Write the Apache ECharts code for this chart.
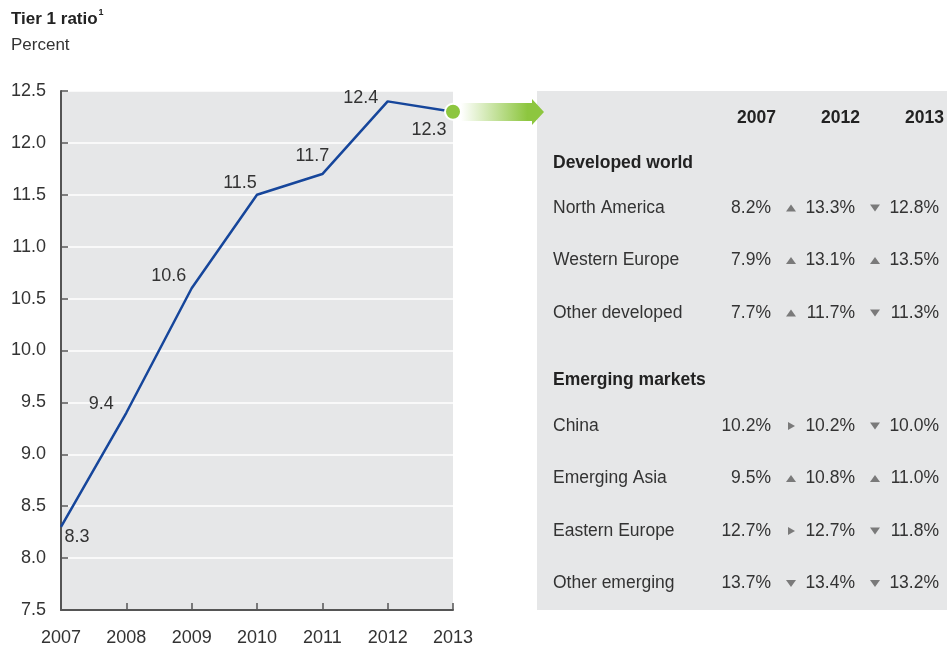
<!DOCTYPE html>
<html>
<head>
<meta charset="utf-8">
<script src="https://cdn.jsdelivr.net/npm/echarts@6/dist/echarts.min.js"></script>
<style>
html,body{margin:0;padding:0;background:#fff;}
#chart{width:947px;height:649px;}
</style>
</head>
<body>
<div id="chart"></div>
<script>
// ---- data ----
const years = ['2007','2008','2009','2010','2011','2012','2013'];
const tier1 = [8.3, 9.4, 10.6, 11.5, 11.7, 12.4, 12.3];
const yTicks = [7.5, 12.5, 0.5]; // min, max, interval

const tableYears = ['2007', '2012', '2013'];
const sectionTitles = ['Developed world', 'Emerging markets'];
const developedNames = ['North America', 'Western Europe', 'Other developed'];
const developed2007 = [8.2, 7.9, 7.7];
const developed2012 = [13.3, 13.1, 11.7];
const developed2013 = [12.8, 13.5, 11.3];
const emergingNames = ['China', 'Emerging Asia', 'Eastern Europe', 'Other emerging'];
const emerging2007 = [10.2, 9.5, 12.7, 13.7];
const emerging2012 = [10.2, 10.8, 12.7, 13.4];
const emerging2013 = [10.0, 11.0, 11.8, 13.2];

// ---- styles ----
const FONT = "'Liberation Sans',Arial,sans-serif";
const TXT = '#333333';
const GRAY = '#e6e7e8';
const GREEN = '#8dc63f';
const labelOffsets = [[16,10],[-25,-9],[-23,-12],[-17,-12],[-10,-18],[-27,-3],[-24,18]];

const chart = echarts.init(document.getElementById('chart'), null, {renderer:'canvas'});

const lineData = tier1.map((v, i) => {
  const last = i === tier1.length - 1;
  return {
    value: v,
    symbol: 'circle',
    symbolSize: last ? 16 : 0.1,
    itemStyle: last ? {color: GREEN, borderColor: '#fff', borderWidth: 2, opacity: 1}
                    : {color: 'rgba(0,0,0,0)', borderWidth: 0},
    label: {show: true, position: 'inside', offset: labelOffsets[i]}
  };
});

// measure helper
const mctx = document.createElement('canvas').getContext('2d');
function tw(text, font) { mctx.font = font; return mctx.measureText(text).width; }

// ---- table graphics ----
const g = [];
g.push({type:'rect', shape:{x:537, y:91, width:410, height:519}, style:{fill:GRAY}, z:1});
// arrow
g.push({type:'polygon', z:5,
  shape:{points:[[461,103],[532,103],[532,99],[544,112],[532,125],[532,121],[461,121]]},
  style:{fill:{type:'linear', x:0, y:0, x2:1, y2:0, global:false,
    colorStops:[{offset:0, color:'rgba(255,255,255,1)'},{offset:0.8, color:GREEN},{offset:1, color:GREEN}]}}});
// title
const titleFont = 'bold 17px ' + FONT;
const titleText = 'Tier 1 ratio';
g.push({type:'text', z:10, style:{text:titleText, x:11, y:19, textVerticalAlign:'middle', font:titleFont, fill:'#222'}});
g.push({type:'text', z:10, style:{text:'1', x:11 + tw(titleText, titleFont) + 1, y:13, textVerticalAlign:'middle',
  font:'bold 9px ' + FONT, fill:'#222'}});
g.push({type:'text', z:10, style:{text:'Percent', x:11, y:45, textVerticalAlign:'middle',
  font:'17px ' + FONT, fill:TXT}});

const TF = '17.5px ' + FONT;
const TFB = 'bold 17.5px ' + FONT;
const colRight = [776, 860, 944];
const valRight = [771, 855, 939];
const markX = [791, 875];
tableYears.forEach((t, i) => {
  g.push({type:'text', z:10, style:{text:t, x:colRight[i], y:118, textAlign:'right', textVerticalAlign:'middle',
    font:TFB, fill:'#222'}});
});
function marker(cx, cy, a, b) {
  let pts;
  if (b > a) pts = [[cx-5, cy+3.5],[cx+5, cy+3.5],[cx, cy-3.5]];
  else if (b < a) pts = [[cx-5, cy-3.5],[cx+5, cy-3.5],[cx, cy+3.5]];
  else pts = [[cx-3, cy-4],[cx-3, cy+4],[cx+4, cy]];
  return {type:'polygon', z:10, shape:{points:pts}, style:{fill:'#7a7a7a'}};
}
function section(title, ty, names, v1, v2, v3, y0) {
  g.push({type:'text', z:10, style:{text:title, x:553, y:ty, textVerticalAlign:'middle', font:TFB, fill:'#222'}});
  names.forEach((n, i) => {
    const y = y0 + i * 52.5;
    g.push({type:'text', z:10, style:{text:n, x:553, y:y, textVerticalAlign:'middle', font:TF, fill:TXT}});
    [v1[i], v2[i], v3[i]].forEach((v, k) => {
      g.push({type:'text', z:10, style:{text:v.toFixed(1) + '%', x:valRight[k], y:y, textAlign:'right',
        textVerticalAlign:'middle', font:TF, fill:TXT}});
    });
    g.push(marker(markX[0], y, v1[i], v2[i]));
    g.push(marker(markX[1], y, v2[i], v3[i]));
  });
}
section(sectionTitles[0], 163, developedNames, developed2007, developed2012, developed2013, 208);
section(sectionTitles[1], 380, emergingNames, emerging2007, emerging2012, emerging2013, 426);

chart.setOption({
  animation: false,
  backgroundColor: '#fff',
  grid: {left:61, right:494, top:91, bottom:39, show:true, backgroundColor:GRAY, borderWidth:0},
  xAxis: {
    type:'category', data: years, boundaryGap:false,
    axisLine:{show:true, lineStyle:{color:'#555', width:2}},
    axisTick:{show:true, inside:true, length:7, lineStyle:{color:'#555', width:1.5}},
    axisLabel:{color:TXT, fontSize:18, fontFamily:FONT, margin:19},
    splitLine:{show:false}
  },
  yAxis: {
    type:'value', min:yTicks[0], max:yTicks[1], interval:yTicks[2],
    axisLine:{show:true, lineStyle:{color:'#555', width:2}},
    axisTick:{show:true, inside:true, length:7, lineStyle:{color:'#555', width:1.5}},
    axisLabel:{color:TXT, fontSize:18, fontFamily:FONT, margin:15, formatter: v => v.toFixed(1)},
    splitLine:{show:true, lineStyle:{color:'#ffffff', width:1.5}}
  },
  series: [{
    type:'line', data: lineData, z:3,
    lineStyle:{color:'#16469b', width:2.5},
    label:{show:true, color:TXT, fontSize:18, fontFamily:FONT, formatter: p => p.value.toFixed(1)},
    emphasis:{disabled:true}
  }],
  graphic: g
});
</script>
</body>
</html>
